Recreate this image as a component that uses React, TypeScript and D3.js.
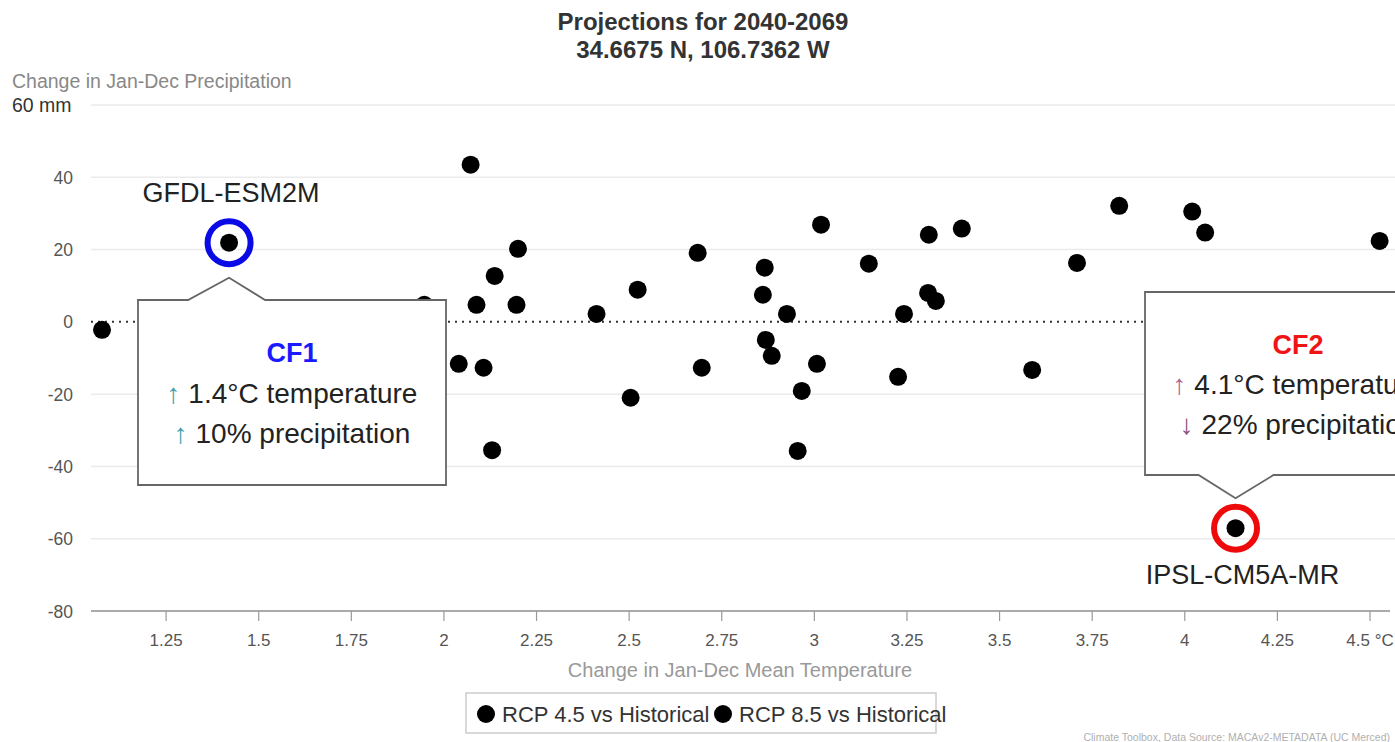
import React from "react";
import * as d3 from "d3";

// ---- Data ----
const titleLines = ["Projections for 2040-2069", "34.6675 N, 106.7362 W"];
const yTicks = [60, 40, 20, 0, -20, -40, -60, -80];
const xTicks = [1.25, 1.5, 1.75, 2, 2.25, 2.5, 2.75, 3, 3.25, 3.5, 3.75, 4, 4.25, 4.5];

// temperature change (°C) and precipitation change (mm) for every model run
const tempChange = [
  1.077, 1.42, 1.947, 2.072, 2.088, 2.137, 2.2, 2.196, 2.04, 2.107, 2.13,
  2.412, 2.523, 2.504, 2.685, 2.696, 2.866, 2.861, 2.869, 2.885, 2.926,
  2.966, 2.955, 3.007, 3.018, 3.147, 3.226, 3.242, 3.309, 3.307, 3.328,
  3.398, 3.588, 3.709, 3.823, 4.02, 4.055, 4.526, 4.137,
];
const precipChange = [
  -2.2, 21.9, 4.7, 43.5, 4.7, 12.7, 20.2, 4.7, -11.6, -12.7, -35.5,
  2.2, 8.9, -21, 19.1, -12.7, 15, 7.5, -5, -9.4, 2.2,
  -19.1, -35.7, -11.6, 26.9, 16.1, -15.2, 2.2, 24.1, 8.0, 5.8,
  25.8, -13.3, 16.3, 32.1, 30.5, 24.7, 22.4, -57.1,
];

// highlighted climate futures
const cfNames = ["GFDL-ESM2M", "IPSL-CM5A-MR"];
const cfLabels = ["CF1", "CF2"];
const cfTemp = [1.42, 4.137];
const cfPrecip = [21.9, -57.1];
const cfTempText = ["1.4°C temperature", "4.1°C temperature"];
const cfPrecipText = ["10% precipitation", "22% precipitation"];
const cfPrecipArrow = ["↑", "↓"];

const legendLabels = ["RCP 4.5 vs Historical", "RCP 8.5 vs Historical"];

const FONT = "'Liberation Sans', Arial, Helvetica, sans-serif";

export default function App() {
  const W = 1395;
  const H = 742;
  const x = d3.scaleLinear().domain([1, 4.5]).range([73.5, 1370]);
  const y = d3.scaleLinear().domain([-80, 60]).range([611, 105]);
  const plotLeft = 91;
  const plotRight = 1395;

  const fmtX = (v: number) => (v === 4.5 ? "4.5 °C" : d3.format("")(v));
  const fmtY = (v: number) => (v === 60 ? "60 mm" : String(v));

  // CF1 callout (below point)
  const c1x = x(cfTemp[0]);
  const c1y = y(cfPrecip[0]);
  const b1 = { l: 138, r: 446, t: 300, b: 485 };
  const apex1 = c1y + 35;
  const cf1Path = `M${b1.l},${b1.t} L${c1x - 41},${b1.t} L${c1x},${apex1} L${c1x + 36},${b1.t} L${b1.r},${b1.t} L${b1.r},${b1.b} L${b1.l},${b1.b} Z`;
  const cf1cx = (b1.l + b1.r) / 2;

  // CF2 callout (above point)
  const c2x = x(cfTemp[1]);
  const c2y = y(cfPrecip[1]);
  const b2 = { l: 1145, r: 1455, t: 292, b: 475 };
  const apex2 = c2y - 30;
  const cf2Path = `M${b2.l},${b2.t} L${b2.r},${b2.t} L${b2.r},${b2.b} L${c2x + 38},${b2.b} L${c2x},${apex2} L${c2x - 37},${b2.b} L${b2.l},${b2.b} Z`;
  const cf2cx = 1298;

  return (
    <svg
      width={W}
      height={H}
      style={{ position: "absolute", left: 0, top: 0, background: "#fff", fontFamily: FONT }}
    >
      <rect x={0} y={0} width={W} height={H} fill="#fff" />
      {/* Title */}
      {titleLines.map((t, i) => (
        <text key={t} x={703} y={30 + i * 28} textAnchor="middle" fontSize={24} fontWeight="bold" fill="#333">
          {t}
        </text>
      ))}
      {/* Y axis title */}
      <text x={12} y={88} fontSize={19.5} fill="#888">Change in Jan-Dec Precipitation</text>

      {/* gridlines */}
      {yTicks.filter((v) => v !== 0 && v !== -80).map((v) => (
        <line key={v} x1={plotLeft} x2={plotRight} y1={y(v)} y2={y(v)} stroke="#ebebeb" strokeWidth={1.5} />
      ))}
      {/* zero dotted line */}
      <line x1={plotLeft} x2={plotRight} y1={y(0)} y2={y(0)} stroke="#333" strokeWidth={2} strokeDasharray="2,5" />

      {/* y tick labels */}
      {yTicks.map((v) => (
        <text
          key={v}
          x={v === 60 ? 12 : 73}
          y={y(v) + 6.5}
          textAnchor={v === 60 ? "start" : "end"}
          fontSize={v === 60 ? 19.5 : 17.5}
          fill={v === 60 ? "#333" : "#555"}
        >
          {fmtY(v)}
        </text>
      ))}

      {/* x axis */}
      <line x1={plotLeft} x2={1390} y1={y(-80)} y2={y(-80)} stroke="#aaa" strokeWidth={2} />
      {xTicks.map((v) => (
        <g key={v}>
          <line x1={x(v)} x2={x(v)} y1={y(-80)} y2={y(-80) + 10} stroke="#999" strokeWidth={1.2} />
          <text x={x(v)} y={646} textAnchor="middle" fontSize={17} fill="#555">
            {fmtX(v)}
          </text>
        </g>
      ))}
      <text x={740} y={677} textAnchor="middle" fontSize={20} fill="#999">
        Change in Jan-Dec Mean Temperature
      </text>

      {/* points */}
      {tempChange.map((t, i) => (
        <circle key={i} cx={x(t)} cy={y(precipChange[i])} r={9} fill="#000" />
      ))}

      {/* highlight rings */}
      <circle cx={c1x} cy={c1y} r={21.5} fill="none" stroke="#0a0ae6" strokeWidth={6} />
      <circle cx={c2x} cy={c2y} r={21.5} fill="none" stroke="#ee0a0a" strokeWidth={6} />
      <text x={c1x + 2} y={c1y - 41} textAnchor="middle" fontSize={27} fill="#222">{cfNames[0]}</text>
      <text x={c2x + 7} y={c2y + 56} textAnchor="middle" fontSize={27} fill="#222">{cfNames[1]}</text>

      {/* CF1 callout */}
      <path d={cf1Path} fill="#fff" stroke="#666" strokeWidth={1.8} />
      <text x={cf1cx} y={362} textAnchor="middle" fontSize={27} fontWeight="bold" fill="#1a1aff">{cfLabels[0]}</text>
      <text x={cf1cx} y={403} textAnchor="middle" fontSize={28} fill="#222">
        <tspan fill="#3a9fae">↑</tspan> {cfTempText[0]}
      </text>
      <text x={cf1cx} y={443} textAnchor="middle" fontSize={28} fill="#222">
        <tspan fill="#3a9fae">{cfPrecipArrow[0]}</tspan> {cfPrecipText[0]}
      </text>

      {/* CF2 callout */}
      <path d={cf2Path} fill="#fff" stroke="#666" strokeWidth={1.8} />
      <text x={cf2cx} y={354} textAnchor="middle" fontSize={27} fontWeight="bold" fill="#f01414">{cfLabels[1]}</text>
      <text x={cf2cx} y={394} textAnchor="middle" fontSize={28} fill="#222">
        <tspan fill="#b5608f">↑</tspan> {cfTempText[1]}
      </text>
      <text x={cf2cx} y={434} textAnchor="middle" fontSize={28} fill="#222">
        <tspan fill="#8a5078">{cfPrecipArrow[1]}</tspan> {cfPrecipText[1]}
      </text>

      {/* legend */}
      <rect x={466} y={693} width={470} height={40} fill="#fff" stroke="#ccc" strokeWidth={1.5} />
      {legendLabels.map((l, i) => (
        <g key={l}>
          <circle cx={486 + i * 237} cy={714} r={9} fill="#000" />
          <text x={502 + i * 237} y={722} fontSize={22} fill="#333">{l}</text>
        </g>
      ))}

      {/* credit */}
      <text x={1390} y={741} textAnchor="end" fontSize={10.5} fill="#b0b0b0">
        Climate Toolbox, Data Source: MACAv2-METADATA (UC Merced)
      </text>
    </svg>
  );
}
